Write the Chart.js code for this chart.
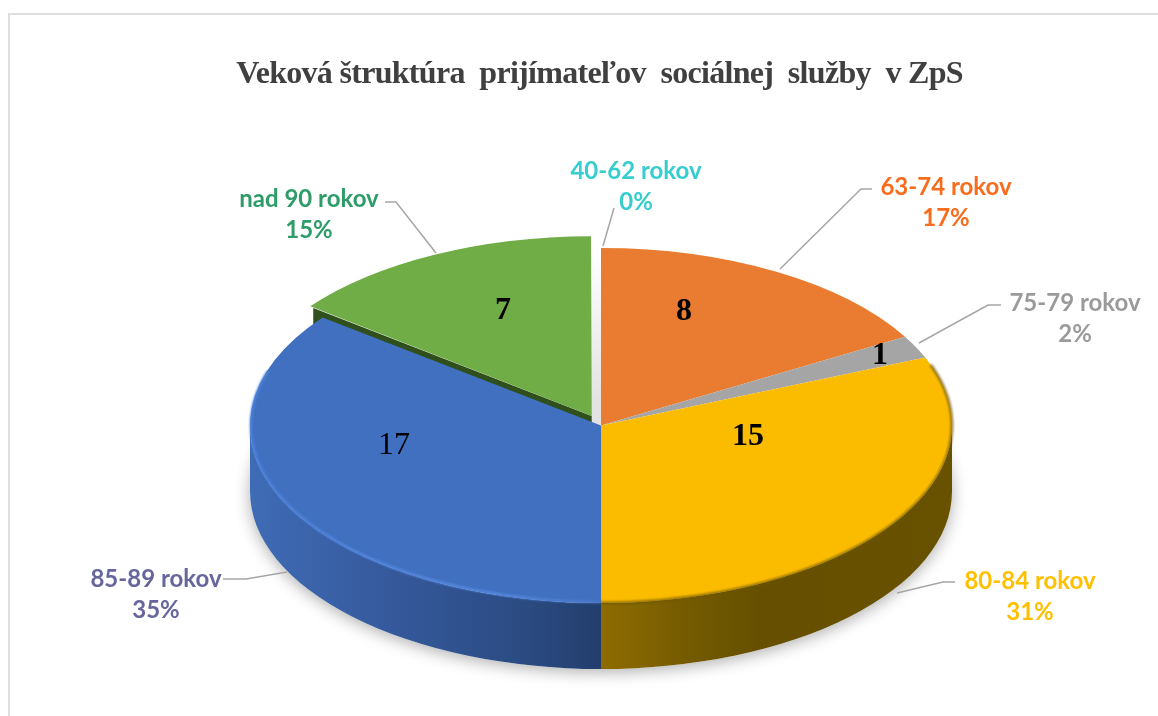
<!DOCTYPE html>
<html lang="sk">
<head>
<meta charset="utf-8">
<title>Veková štruktúra</title>
<style>
  html, body { margin: 0; padding: 0; background: #fff; }
  canvas { display: block; }
</style>
</head>
<body>
<canvas id="graf" width="1158" height="716"></canvas>
<script src="https://cdn.jsdelivr.net/npm/chart.js@4/dist/chart.umd.min.js"></script>
<script>
const nazov = "Veková štruktúra  prijímateľov  sociálnej  služby  v ZpS";
const kategorie = ["40-62 rokov", "63-74 rokov", "75-79 rokov", "80-84 rokov", "85-89 rokov", "nad 90 rokov"];
const hodnoty = [0, 8, 1, 15, 17, 7];
const percenta = ["0%", "17%", "2%", "31%", "35%", "15%"];

const farbyVysekov = ["#5B9BD5", "#E97C30", "#A5A5A5", "#FBBC00", "#4070BF", "#70AD47"];
const farbyPopisov = ["#36CDD0", "#F96C1C", "#9A9A9A", "#FFC000", "#66669C", "#2E9C69"];
const odsunutie = [0, 0, 0, 0, 0, 84]; // chart.js posuva o offset/4

// rozlozenie popisov: stred textu a lomena ciara
const popisyPoloha = [
  { x: 636, y: 170, ciara: [[614, 208], [603, 246]] },
  { x: 946, y: 186, ciara: [[872, 189], [861, 189], [780, 269]] },
  { x: 1075, y: 302, ciara: [[1001, 305], [988, 305], [919, 343]] },
  { x: 1030, y: 580, ciara: [[955, 582], [943, 582], [897, 593]] },
  { x: 156, y: 578, ciara: [[223, 579], [246, 579], [287, 572]] },
  { x: 309, y: 198, ciara: [[385, 202], [396, 202], [436, 253]] }
];
const cislaPoloha = [null, [684, 312], [880, 356], [748, 437], [394, 446], [503, 311]];

const CX = 601, CY = 425.5, R = 351, SPLOST = 0.5057, HLBKA = 66;
const RY = R * SPLOST;

function stena(ctx, a0, a1, farby) {
  const od = Math.max(a0, 0), po = Math.min(a1, Math.PI);
  if (po <= od) return;
  const g = ctx.createLinearGradient(farby.x0, 0, farby.x1, 0);
  farby.stops.forEach(s => g.addColorStop(s[0], s[1]));
  ctx.beginPath();
  ctx.ellipse(CX, CY, R, RY, 0, od, po);
  ctx.ellipse(CX, CY + HLBKA, R, RY, 0, po, od, true);
  ctx.closePath();
  ctx.fillStyle = g;
  ctx.fill();
}

const pie3d = {
  id: "pie3d",
  beforeDraw(chart) {
    chart.ctx.letterSpacing = "-0.7px"; // titulok je v originale stiesneny
  },
  beforeDatasetsDraw(chart) {
    const ctx = chart.ctx;
    ctx.letterSpacing = "0px";
    const arcs = chart.getDatasetMeta(0).data;

    // ramik
    ctx.fillStyle = "#DEDEDE";
    ctx.fillRect(8, 13, 1150, 2);
    ctx.fillRect(8, 13, 2, 703);

    // jemny tien pod kolacom
    ctx.save();
    ctx.beginPath();
    ctx.rect(0, CY + 10, 1158, 400);
    ctx.clip();
    ctx.shadowColor = "rgba(0,0,0,0.32)";
    ctx.shadowBlur = 16;
    ctx.shadowOffsetY = 3;
    ctx.fillStyle = "#fff";
    ctx.beginPath();
    ctx.ellipse(CX, CY + HLBKA, R, RY, 0, 0, Math.PI * 2);
    ctx.fill();
    ctx.restore();

    // medzera pri odsunutom vyseku
    const tien = ctx.createLinearGradient(0, 250, 0, 400);
    tien.addColorStop(0, "#ffffff");
    tien.addColorStop(1, "#E3E3E3");
    ctx.fillStyle = tien;
    ctx.fillRect(590, 250, 12, 175);

    // rezna plocha zeleneho vyseku
    const zel = arcs[5];
    const stred = (zel.startAngle + zel.endAngle) / 2;
    const dx = Math.cos(stred) * odsunutie[5] / 4;
    const dy = Math.sin(stred) * odsunutie[5] / 4 * SPLOST;
    const rohX = CX + dx + R * Math.cos(zel.startAngle);
    const rohY = CY + dy + RY * Math.sin(zel.startAngle);
    ctx.fillStyle = "#2F4F1C";
    ctx.beginPath();
    ctx.moveTo(CX + dx, CY + dy);
    ctx.lineTo(rohX, rohY);
    ctx.lineTo(rohX, rohY + HLBKA);
    ctx.lineTo(CX + dx, CY + dy + HLBKA);
    ctx.closePath();
    ctx.fill();

    // bocne steny
    stena(ctx, arcs[3].startAngle, arcs[3].endAngle, {
      x0: CX, x1: CX + R,
      stops: [[0, "#8E6C00"], [0.25, "#745A00"], [0.45, "#665000"], [1, "#685200"]]
    });
    stena(ctx, arcs[4].startAngle, arcs[4].endAngle, {
      x0: CX - R, x1: CX,
      stops: [[0, "#3F6CB6"], [0.4, "#35599C"], [0.8, "#2A4A80"], [1, "#233E6C"]]
    });

    // vrch kolaca kresli chart.js, len stlaceny do elipsy
    const a = arcs[1];
    ctx.save();
    ctx.translate(CX, CY);
    ctx.scale(1, SPLOST);
    ctx.translate(-a.x, -a.y);
  },
  afterDatasetsDraw(chart) {
    const ctx = chart.ctx;
    ctx.restore();

    // svetly okraj na modrom, tmavsi prechod na zltom
    ctx.save();
    ctx.filter = "blur(1px)";
    const modra = ctx.createLinearGradient(CX - R, 0, CX, 0);
    modra.addColorStop(0, "#4C80DC");
    modra.addColorStop(0.7, "#5A8CE6");
    modra.addColorStop(1, "#4A7ACB");
    ctx.strokeStyle = modra;
    ctx.lineWidth = 2.5;
    ctx.beginPath();
    ctx.ellipse(CX, CY, R - 1, RY - 1, 0, Math.PI / 2, Math.PI * 1.1);
    ctx.stroke();
    ctx.strokeStyle = "rgba(110,85,0,0.7)";
    ctx.lineWidth = 3;
    ctx.beginPath();
    ctx.ellipse(CX, CY, R, RY, 0, -0.35, Math.PI / 2);
    ctx.stroke();
    ctx.restore();

    // cisla vo vysekoch
    ctx.textAlign = "center";
    ctx.textBaseline = "middle";
    ctx.fillStyle = "#000";
    hodnoty.forEach((v, i) => {
      if (!cislaPoloha[i]) return;
      ctx.font = (i === 4 ? "" : "bold ") + "32px 'Liberation Serif'";
      ctx.fillText(String(v), cislaPoloha[i][0], cislaPoloha[i][1]);
    });

    // popisy a spojnice
    ctx.strokeStyle = "#A6A6A6";
    ctx.lineWidth = 1.5;
    popisyPoloha.forEach((p, i) => {
      ctx.beginPath();
      p.ciara.forEach((b, j) => j ? ctx.lineTo(b[0], b[1]) : ctx.moveTo(b[0], b[1]));
      ctx.stroke();
      ctx.fillStyle = farbyPopisov[i];
      ctx.font = "bold 24px Lato";
      ctx.fillText(kategorie[i], p.x, p.y + 1);
      ctx.fillText(percenta[i], p.x, p.y + 32);
    });
  }
};

new Chart(document.getElementById("graf"), {
  type: "pie",
  data: {
    labels: kategorie,
    datasets: [{
      data: hodnoty,
      backgroundColor: farbyVysekov,
      borderWidth: 0,
      offset: odsunutie
    }]
  },
  options: {
    responsive: false,
    animation: false,
    radius: R,
    layout: { padding: { left: 41, top: 56 } },
    plugins: {
      legend: { display: false },
      tooltip: { enabled: false },
      title: {
        display: true,
        text: nazov,
        fullSize: false,
        color: "#404040",
        font: { family: "'Liberation Serif'", size: 32, weight: "bold" },
        padding: 0
      }
    }
  },
  plugins: [pie3d]
});
</script>
</body>
</html>
